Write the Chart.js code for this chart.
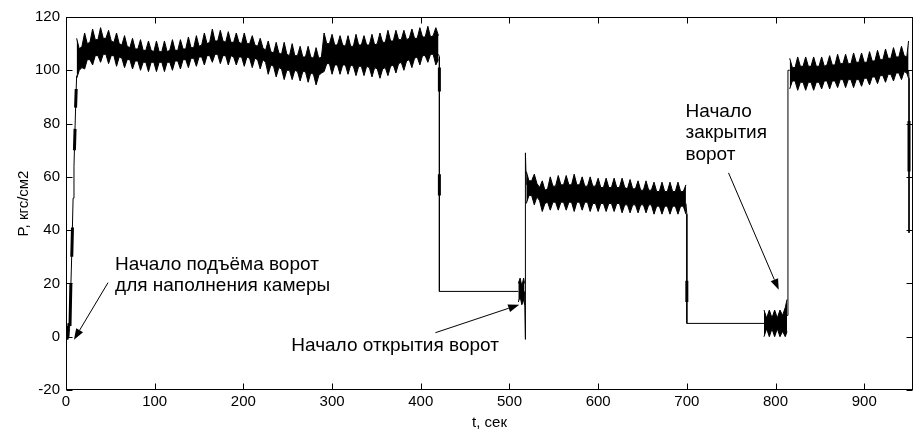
<!DOCTYPE html>
<html><head><meta charset="utf-8">
<script src="https://cdn.jsdelivr.net/npm/chart.js@4"></script>
<style>html,body{margin:0;padding:0;background:#fff}#wrap{width:916px;height:431px;position:relative}</style>
</head><body><div id="wrap"><canvas id="c" width="916" height="431"></canvas></div>
<script>
// ---- axis ticks ----
const xTicks = [0,100,200,300,400,500,600,700,800,900];
const yTicks = [-20,0,20,40,60,80,100,120];

// ---- thin trace (t, P); null = break ----
const traceT = [0,0.5,1,1.5,2,2.5,3,4,5,6,7,8,9,10,11,12,null,
  420,421,421,510,null, 517,518,518,519,null, 699,700,700,787,null, 813,814,814,816,null, 950,950.5,950.5];
const traceP = [0,5,-1,4,-1,5,0,3,14,25,38,52,64,76,88,98,null,
  106,105,17,17,null, 17,-1,69,57,null, 50,46,5,5,null, 8,10,100,100,null, 100,97,39];

// ---- thick noisy pieces on transitions ----
const thickT = [4.5,5.5,null,6.5,7.3,null,9.5,10.2,null,10.8,11.5,null,421,421,null,421,421,null,700,700,null,950.5,950.5];
const thickP = [4,20,null,30,41,null,70,78,null,86,93,null,101,92,null,61,53,null,21,13,null,81,62];

// ---- oscillation bands: time, upper envelope, lower envelope ----
const band1T = [12,15,18,21,24,27,30,33,36,39,42,45,48,51,54,57,60,63,66,69,72,75,78,81,84,87,90,93,96,99,
  102,105,108,111,114,117,120,123,126,129,132,135,138,141,144,147,150,153,156,159,162,165,168,171,174,177,180,183,186,189,
  192,195,198,201,204,207,210,213,216,219,222,225,228,231,234,237,240,243,246,249,252,255,258,261,264,267,270,273,276,279,
  282,285,288,291,294,297,300,303,306,309,312,315,318,321,324,327,330,333,336,339,342,345,348,351,354,357,360,363,366,369,
  372,375,378,381,384,387,390,393,396,399,402,405,408,411,414,417,420];
const band1Hi = [112,108,109, 114,110,110.5, 115.5,111.5,111.5, 116,112,112, 115,111,110.5,
  114,110,109.5, 113,109,108.5, 112,108,108, 111.5,107.5,107.5, 111,107.5,107,
  111,107,107, 111,107,107.5, 111.5,107.5,107.5, 111.5,108,108, 112.5,108.5,108.5,
  113,109,109.5, 114,110,110.5, 115.5,111,111, 115,111,110.5, 114.5,110.5,110.5,
  114,110.5,110, 114,110,110, 113,109.5,109, 112,108.5,107.5, 111,107,106.5,
  110.5,106.5,106, 110.5,106,105.5, 110,105.5,105.5, 109,105,105, 109,105,104.5,
  108.5,104.5,105, 114,110,110, 113.5,109.5,109.5, 113,109.5,109, 113,109,109,
  113.5,109.5,109.5, 113,109.5,109.5, 113.5,109.5,110, 114,110.5,110.5, 115,111,111,
  115,111.5,111.5, 115,111.5,112, 115.5,112,112, 116,112.5,112.5, 116.5,112.5,113,
  116,113];
const band1Lo = [97,100,101, 100.5,104,104, 102,105.5,105.5, 103,106,106, 102.5,105.5,105.5,
  101.5,105,104.5, 101,104,104, 100.5,103.5,103.5, 100,103,103, 99.5,103,103,
  99.5,103,103, 99.5,103,103, 100,103.5,103.5, 100.5,104,104, 101,104.5,104.5,
  101.5,105,105, 102,105.5,105.5, 103,106,106, 102.5,105.5,105.5, 102,105.5,105,
  102,105,105, 101.5,105,104.5, 101,104.5,104, 100.5,104,103, 98.5,102,101.5,
  97.5,101,100.5, 96.5,100,100, 96.5,100,99.5, 96,99.5,99.5, 95.5,99,98.5,
  94.5,98,99, 99.5,102.5,102.5, 98.5,102,102, 98.5,102,102, 98.5,102,101.5,
  98,101.5,101.5, 98,101.5,101, 97.5,101,100.5, 97,100.5,101, 98,101.5,102,
  99,102.5,103, 100,103.5,104, 101,104.5,105, 102,105.5,105.5, 103,106,106,
  102,104];

const band0T  = [510,512,514,516,517];
const band0Hi = [20,22,19,22,20];
const band0Lo = [13,15,12,14,12];

const band2T = [519,522,525,528,531,534,537,540,543,546,549,552,555,558,561,564,567,570,573,576,579,582,585,588,591,594,597,600,603,606,
  609,612,615,618,621,624,627,630,633,636,639,642,645,648,651,654,657,660,663,666,669,672,675,678,681,684,687,690,693,696,699];
const band2Hi = [62,58.5,58.5, 61,57.5,56, 58.5,55,55.5, 60,56.5,56.5, 60.5,57,57, 60.5,57,57, 61,57,57,
  60,56.5,56.5, 60,56.5,56.5, 59.5,56,56, 59.5,56,56, 59.5,56,56, 59.5,56,55.5, 59,55.5,55.5,
  58.5,55,55, 58.5,55,55, 58,54.5,54.5, 58,54.5,54.5, 58,54.5,54.5, 58,54.5,54.5, 57];
const band2Lo = [50,53,53, 49.5,52.5,51, 47,50,50.5, 47.5,50.5,50.5, 47.5,50.5,50.5, 47.5,50.5,50.5, 47,50.5,50.5,
  47.5,50.5,50.5, 47,50,50, 47,50,50, 47,50,50, 47,50,50, 46.5,49.5,49.5, 46.5,49.5,49.5,
  46.5,49.5,49.5, 46.5,49.5,49.5, 46,49,49, 46,49,49, 46,49,49, 46,49,49, 46];

const band3T  = [787,790,793,796,799,802,805,808,811,813];
const band3Hi = [10,7,10,7,10,7,10,8,11,14];
const band3Lo = [0,3,0,3,0,3,0,2,0,2];

const band4T = [816,819,822,825,828,831,834,837,840,843,846,849,852,855,858,861,864,867,870,873,876,879,882,885,888,891,894,897,900,903,
  906,909,912,915,918,921,924,927,930,933,936,939,942,945,948,950];
const band4Hi = [104.5,101,101, 105,101.5,101.5, 105,101.5,101.5, 105,101.5,101.5, 105,101.5,102, 105.5,102,102,
  106,102.5,102.5, 106,102.5,102.5, 106.5,103,103, 106.5,103,103, 107,103.5,103.5, 107.5,104,104,
  108,104.5,104.5, 108.5,105,105, 109,105.5,105, 111];
const band4Lo = [93,96,96, 92.5,95.5,95.5, 92.5,95.5,95.5, 92.5,95.5,95.5, 93,96,96, 93,96,96,
  93.5,96.5,96.5, 93.5,96.5,96.5, 93.5,96.5,96.5, 94,97,97, 94.5,97.5,97.5, 95,98,98,
  95.5,98.5,98.5, 96,99,99, 96.5,99.5,99, 97];

// ---- annotations (anchor in data units) ----
const noteLines = [['Начало подъёма ворот','для наполнения камеры'], ['Начало открытия ворот'], ['Начало','закрытия','ворот']];
const noteT = [55.3, 254, 698.6];
const noteP = [25.1, -5.5, 82.6];
const arrowFromT = [47.4, 416.5, 747];
const arrowFromP = [20.3, 1.5, 61.5];
const arrowToT = [9, 511, 803.6];
const arrowToP = [-1.1, 12, 17.6];

const FONT = '"Liberation Sans", Arial, Helvetica, sans-serif';
const pts = (T, P) => T.map((t, i) => ({x: t, y: P[i]}));

const datasets = [];
function addBand(T, Hi, Lo) {
  datasets.push({data: pts(T, Hi), borderColor: '#000', borderWidth: 1, pointRadius: 0, fill: false, tension: 0});
  datasets.push({data: pts(T, Lo), borderColor: '#000', borderWidth: 1, pointRadius: 0, fill: '-1', backgroundColor: '#000', tension: 0});
}
addBand(band1T, band1Hi, band1Lo);
addBand(band0T, band0Hi, band0Lo);
addBand(band2T, band2Hi, band2Lo);
addBand(band3T, band3Hi, band3Lo);
addBand(band4T, band4Hi, band4Lo);
datasets.push({data: pts(traceT, traceP), borderColor: '#000', borderWidth: 1, pointRadius: 0, fill: false, spanGaps: false, tension: 0});
datasets.push({data: pts(thickT, thickP), borderColor: '#000', borderWidth: 3, pointRadius: 0, fill: false, spanGaps: false, tension: 0});

const framePlugin = {
  id: 'frame',
  afterDraw(chart) {
    const {ctx, chartArea: a, scales: {x, y}} = chart;
    ctx.save();
    ctx.strokeStyle = '#000'; ctx.lineWidth = 1;
    const L = Math.round(a.left) + 0.5, R = Math.round(a.right) - 0.5, Tp = Math.round(a.top) + 0.5, B = Math.round(a.bottom) - 0.5;
    ctx.strokeRect(L, Tp, R - L, B - Tp);
    ctx.beginPath();
    xTicks.forEach(v => {
      const px = Math.round(x.getPixelForValue(v)) + 0.5;
      ctx.moveTo(px, B); ctx.lineTo(px, B - 6);
      ctx.moveTo(px, Tp); ctx.lineTo(px, Tp + 6);
    });
    yTicks.forEach(v => {
      const py = Math.round(y.getPixelForValue(v)) + 0.5;
      ctx.moveTo(L, py); ctx.lineTo(L + 6, py);
      ctx.moveTo(R, py); ctx.lineTo(R - 6, py);
    });
    ctx.stroke();
    // annotations
    ctx.fillStyle = '#000';
    ctx.font = '19px ' + FONT;
    ctx.textAlign = 'left'; ctx.textBaseline = 'alphabetic';
    noteLines.forEach((lines, i) => {
      const px = x.getPixelForValue(noteT[i]);
      const py = y.getPixelForValue(noteP[i]);
      lines.forEach((s, j) => ctx.fillText(s, px, py + j * 21.5));
    });
    arrowFromT.forEach((t, i) => {
      const x1 = x.getPixelForValue(t), y1 = y.getPixelForValue(arrowFromP[i]);
      const x2 = x.getPixelForValue(arrowToT[i]), y2 = y.getPixelForValue(arrowToP[i]);
      const ang = Math.atan2(y2 - y1, x2 - x1);
      const hl = 11, hw = 4;
      const bx = x2 - hl * Math.cos(ang), by = y2 - hl * Math.sin(ang);
      ctx.beginPath(); ctx.moveTo(x1, y1); ctx.lineTo(bx, by); ctx.lineWidth = 1; ctx.stroke();
      ctx.beginPath();
      ctx.moveTo(x2, y2);
      ctx.lineTo(bx + hw * Math.sin(ang), by - hw * Math.cos(ang));
      ctx.lineTo(bx - hw * Math.sin(ang), by + hw * Math.cos(ang));
      ctx.closePath(); ctx.fill();
    });
    ctx.restore();
  }
};

new Chart(document.getElementById('c'), {
  type: 'line',
  data: {datasets},
  plugins: [framePlugin],
  options: {
    responsive: false, animation: false, devicePixelRatio: 1,
    layout: {padding: {top: 17, right: 3, left: 0, bottom: 0}},
    plugins: {legend: {display: false}, tooltip: {enabled: false}},
    elements: {line: {borderCapStyle: 'butt', borderJoinStyle: 'miter'}},
    scales: {
      x: {
        type: 'linear', min: 0, max: 955,
        afterBuildTicks: s => { s.ticks = xTicks.map(v => ({value: v})); },
        afterFit: s => { s.height = 41; },
        grid: {display: false, drawTicks: false},
        border: {display: false},
        ticks: {color: '#000', font: {family: FONT, size: 15}, padding: 3, maxRotation: 0, autoSkip: false},
        title: {display: true, text: 't, сек', color: '#000', font: {family: FONT, size: 15}, padding: {top: 0, bottom: -1}}
      },
      y: {
        type: 'linear', min: -20, max: 120,
        afterBuildTicks: s => { s.ticks = yTicks.map(v => ({value: v})); },
        afterFit: s => { s.width = 66; },
        grid: {display: false, drawTicks: false},
        border: {display: false},
        ticks: {color: '#000', font: {family: FONT, size: 15}, padding: 6, autoSkip: false},
        title: {display: true, text: 'P, кгс/см2', color: '#000', font: {family: FONT, size: 15}, padding: {top: 15, bottom: 0}}
      }
    }
  }
});
</script></body></html>
